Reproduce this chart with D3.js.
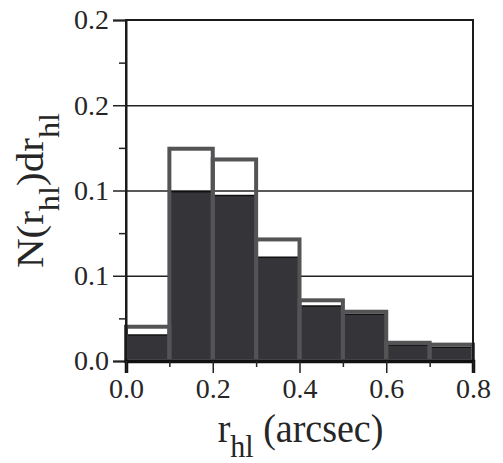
<!DOCTYPE html>
<html>
<head>
<meta charset="utf-8">
<script src="https://cdn.jsdelivr.net/npm/d3@7"></script>
<style>
  body { margin: 0; background: #fff; }
  svg text { font-family: "Liberation Serif", "Times New Roman", serif; fill: #262626; }
</style>
</head>
<body>
<svg id="chart"></svg>
<script>
// bin left edges (arcsec), width 0.1
var binStarts = [0.0, 0.1, 0.2, 0.3, 0.4, 0.5, 0.6, 0.7];
var binWidth = 0.1;
// open histogram (all objects) and filled histogram (subset)
var allValues    = [0.0201, 0.1245, 0.1182, 0.0713, 0.0356, 0.0289, 0.0107, 0.0096];
var subsetValues = [0.0152, 0.0993, 0.0970, 0.0608, 0.0323, 0.0274, 0.0094, 0.0080];

var yMajorTicks = [0, 0.05, 0.1, 0.15, 0.2];
var yTickLabels = ["0.0", "0.1", "0.1", "0.2", "0.2"];
var yMinorTicks = [0.025, 0.075, 0.125, 0.175];
var yGrid = [0.05, 0.1, 0.15];
var xMajorTicks = [0, 0.2, 0.4, 0.6, 0.8];
var xTickLabels = ["0.0", "0.2", "0.4", "0.6", "0.8"];
var xMinorTicks = [0.1, 0.3, 0.5, 0.7];

var W = 503, H = 463;
var margin = { top: 20, right: 30, bottom: 102, left: 126 },
    w = W - margin.left - margin.right,
    h = H - margin.top - margin.bottom;

var serif = "'Liberation Serif', 'Times New Roman', serif";

var svg = d3.select("#chart").attr("width", W).attr("height", H);
var g = svg.append("g").attr("transform", "translate(" + margin.left + "," + margin.top + ")");

var x = d3.scaleLinear().domain([0, 0.8]).range([0, w]);
var y = d3.scaleLinear().domain([0, 0.2]).range([h, 0]);

// grid lines
g.append("g")
 .call(d3.axisLeft(y).tickValues(yGrid).tickSize(-w).tickFormat(""))
 .call(function(a) { a.select(".domain").remove(); })
 .selectAll("line").attr("stroke", "#222").attr("stroke-width", 1.5);

// filled histogram
g.selectAll(".fill-bar")
 .data(binStarts)
 .enter()
 .append("rect")
 .attr("class", "fill-bar")
 .attr("x", function(d) { return x(d); })
 .attr("y", function(d, i) { return y(subsetValues[i]); })
 .attr("width", x(binWidth) - x(0))
 .attr("height", function(d, i) { return h - y(subsetValues[i]); })
 .attr("fill", "#353539");

g.selectAll(".fill-top")
 .data(binStarts)
 .enter()
 .append("line")
 .attr("x1", function(d) { return x(d); })
 .attr("x2", function(d) { return x(d + binWidth); })
 .attr("y1", function(d, i) { return y(subsetValues[i]); })
 .attr("y2", function(d, i) { return y(subsetValues[i]); })
 .attr("stroke", "#111")
 .attr("stroke-width", 1.5);

// open histogram
g.selectAll(".open-bar")
 .data(binStarts)
 .enter()
 .append("rect")
 .attr("class", "open-bar")
 .attr("x", function(d) { return x(d); })
 .attr("y", function(d, i) { return y(allValues[i]); })
 .attr("width", x(binWidth) - x(0))
 .attr("height", function(d, i) { return h - y(allValues[i]); })
 .attr("fill", "none")
 .attr("stroke", "#545456")
 .attr("stroke-width", 4);

// frame
g.append("rect")
 .attr("x", 0).attr("y", 0).attr("width", w).attr("height", h)
 .attr("fill", "none").attr("stroke", "#1a1a1a").attr("stroke-width", 2);

// y axis
var yAxis = g.append("g")
 .call(d3.axisLeft(y).tickValues(yMajorTicks).tickSize(13).tickPadding(4)
   .tickFormat(function(d, i) { return yTickLabels[i]; }));
g.append("g")
 .call(d3.axisLeft(y).tickValues(yMinorTicks).tickSize(7).tickFormat(""))
 .select(".domain").remove();

// x axis
var xAxis = g.append("g")
 .attr("transform", "translate(0," + h + ")")
 .call(d3.axisBottom(x).tickValues(xMajorTicks).tickSize(12).tickPadding(5)
   .tickFormat(function(d, i) { return xTickLabels[i]; }));
g.append("g")
 .attr("transform", "translate(0," + h + ")")
 .call(d3.axisBottom(x).tickValues(xMinorTicks).tickSize(6).tickFormat(""))
 .select(".domain").remove();

svg.selectAll("g").attr("font-family", null);
svg.selectAll(".tick line").attr("stroke", "#222").attr("stroke-width", 1.5);
svg.selectAll(".tick text").style("font-size", "28px")
   .style("font-family", serif).attr("fill", "#262626");
yAxis.select(".domain").attr("stroke", "#1a1a1a").attr("stroke-width", 2);
xAxis.select(".domain").attr("stroke", "#111").attr("stroke-width", 3.5);

// axis titles (source figure is slightly stretched vertically)
var xl = svg.append("text")
 .attr("transform", "translate(" + (margin.left + w / 2 + 1) + ",442) scale(1,1.07)")
 .attr("text-anchor", "middle")
 .style("font-family", serif)
 .style("font-size", "38px");
xl.append("tspan").text("r");
xl.append("tspan").attr("dy", 14).style("font-size", "30px").text("hl");
xl.append("tspan").attr("dy", -14).text(" (arcsec)");

var yl = svg.append("text")
 .attr("transform", "translate(43," + (margin.top + h / 2) + ") rotate(-90) scale(1.08,1)")
 .attr("text-anchor", "middle")
 .style("font-family", serif)
 .style("font-size", "38px");
yl.append("tspan").text("N(r");
yl.append("tspan").attr("dy", 16).style("font-size", "30px").text("hl");
yl.append("tspan").attr("dy", -16).text(")dr");
yl.append("tspan").attr("dy", 16).style("font-size", "30px").text("hl");
</script>
</body>
</html>
